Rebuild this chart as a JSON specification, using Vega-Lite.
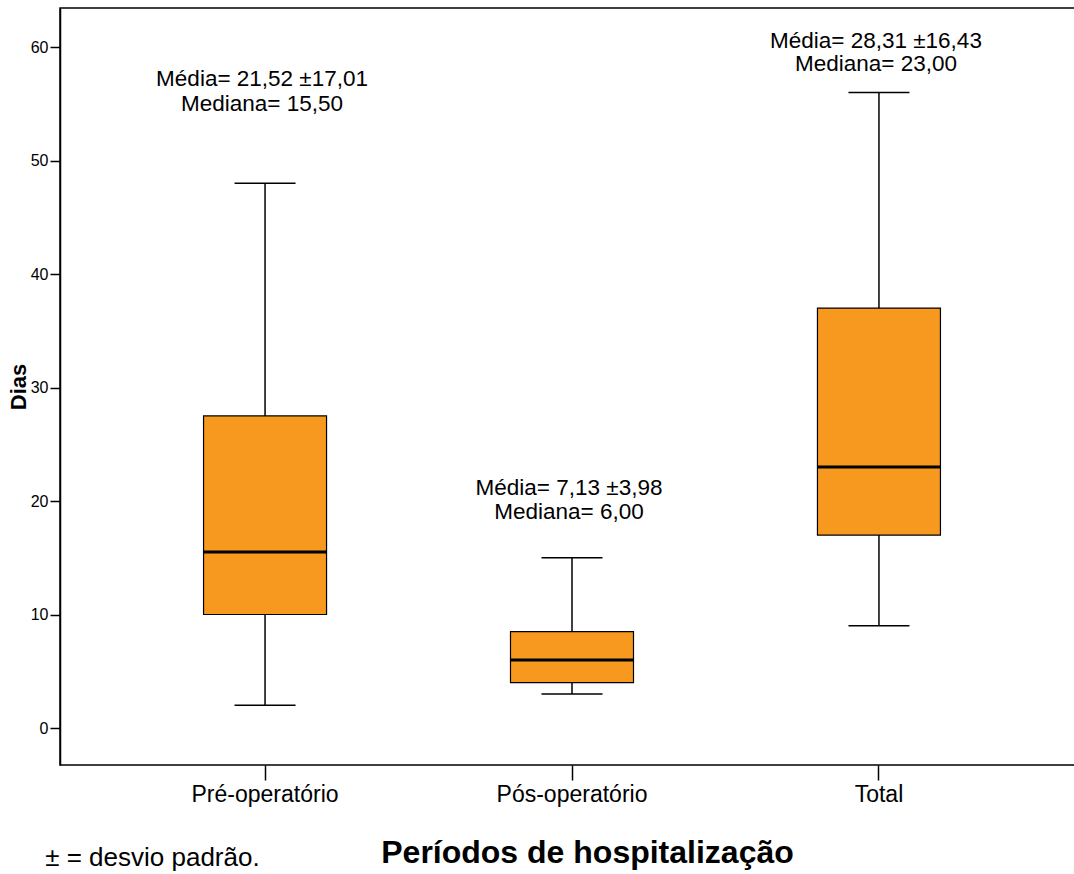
{
  "$schema": "https://vega.github.io/schema/vega-lite/v6.json",
  "autosize": "none",
  "width": 1024,
  "height": 757,
  "padding": {"left": 60, "top": 8, "right": 0, "bottom": 109},
  "background": "white",
  "title": {
    "text": "± = desvio padrão.",
    "orient": "bottom",
    "anchor": "start",
    "frame": "bounds",
    "fontSize": 26,
    "font": "Liberation Sans",
    "fontWeight": "normal",
    "color": "black",
    "dx": 38,
    "dy": -27
  },
  "config": {
    "font": "Liberation Sans",
    "view": {"stroke": "black", "strokeWidth": 1.5},
    "axis": {"grid": false, "labelColor": "black", "titleColor": "black", "tickColor": "black", "domainColor": "black"}
  },
  "datasets": {
    "boxes": [
      {"periodo": "Pré-operatório", "lower": 2, "q1": 10, "median": 15.5, "q3": 27.5, "upper": 48},
      {"periodo": "Pós-operatório", "lower": 3, "q1": 4, "median": 6, "q3": 8.5, "upper": 15},
      {"periodo": "Total", "lower": 9, "q1": 17, "median": 23, "q3": 37, "upper": 56}
    ],
    "notes": [
      {"periodo": "Pré-operatório", "y": 56.56, "label": "Média= 21,52 ±17,01"},
      {"periodo": "Pré-operatório", "y": 54.4, "label": "Mediana= 15,50"},
      {"periodo": "Pós-operatório", "y": 20.5, "label": "Média= 7,13 ±3,98"},
      {"periodo": "Pós-operatório", "y": 18.45, "label": "Mediana= 6,00"},
      {"periodo": "Total", "y": 59.95, "label": "Média= 28,31 ±16,43"},
      {"periodo": "Total", "y": 57.85, "label": "Mediana= 23,00"}
    ]
  },
  "encoding": {
    "x": {
      "field": "periodo",
      "type": "nominal",
      "sort": ["Pré-operatório", "Pós-operatório", "Total"],
      "scale": {"type": "band", "paddingInner": 0, "paddingOuter": 0.168},
      "axis": {
        "title": "Períodos de hospitalização",
        "titleFontSize": 32,
        "titleFontWeight": "bold",
        "titlePadding": 31,
        "titleX": 527,
        "labelAngle": 0,
        "labelFontSize": 23,
        "labelPadding": 3,
        "tickSize": 15,
        "tickWidth": 1.5,
        "domain": false
      }
    }
  },
  "layer": [
    {
      "data": {"name": "boxes"},
      "mark": {"type": "rule", "color": "black", "strokeWidth": 1.5},
      "encoding": {
        "y": {
          "field": "lower",
          "type": "quantitative",
          "scale": {"domain": [-3.26, 63.44], "nice": false, "zero": false},
          "axis": {
            "title": "Dias",
            "titleFontSize": 22,
            "titleFontWeight": "bold",
            "titlePadding": 0,
            "values": [0, 10, 20, 30, 40, 50, 60],
            "labelFontSize": 16,
            "labelPadding": 2,
            "tickSize": 10,
            "tickWidth": 1.5,
            "domainWidth": 1.5
          }
        },
        "y2": {"field": "upper"}
      }
    },
    {
      "data": {"name": "boxes"},
      "mark": {"type": "bar", "size": 123, "fill": "#F7991F", "stroke": "black", "strokeWidth": 1.2},
      "encoding": {
        "y": {"field": "q1", "type": "quantitative"},
        "y2": {"field": "q3"}
      }
    },
    {
      "data": {"name": "boxes"},
      "mark": {"type": "tick", "size": 123, "thickness": 3, "color": "black", "opacity": 1},
      "encoding": {"y": {"field": "median", "type": "quantitative"}}
    },
    {
      "data": {"name": "boxes"},
      "mark": {"type": "tick", "size": 61, "thickness": 1.5, "color": "black", "opacity": 1},
      "encoding": {"y": {"field": "lower", "type": "quantitative"}}
    },
    {
      "data": {"name": "boxes"},
      "mark": {"type": "tick", "size": 61, "thickness": 1.5, "color": "black", "opacity": 1},
      "encoding": {"y": {"field": "upper", "type": "quantitative"}}
    },
    {
      "data": {"name": "notes"},
      "mark": {"type": "text", "fontSize": 22.5, "color": "black", "align": "center", "baseline": "alphabetic", "font": "Liberation Sans", "dx": -3},
      "encoding": {
        "y": {"field": "y", "type": "quantitative"},
        "text": {"field": "label"}
      }
    }
  ]
}
